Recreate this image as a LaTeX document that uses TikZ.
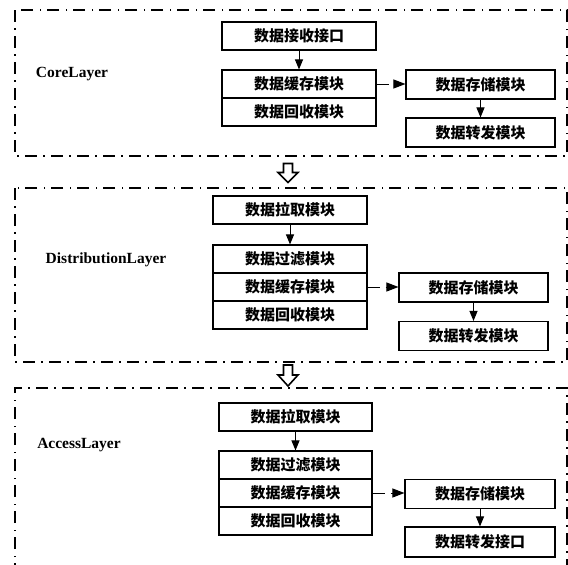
\documentclass[tikz,border=0pt]{standalone}
\usepackage{fontspec}
\setmainfont{Liberation Serif}
\newfontfamily\cjk{Noto Sans CJK SC}
\usetikzlibrary{arrows.meta}
\tikzset{
  modbox/.style={draw, line width=1.1pt, inner sep=0pt, font=\cjk\bfseries\fontsize{15}{15}\selectfont},
  lbox/.style={modbox, minimum width=154pt, minimum height=28pt},
  rbox/.style={modbox, minimum width=149pt, minimum height=29pt},
  panel/.style={line width=1.1pt, dash pattern=on 12pt off 6pt on 1.5pt off 6.5pt},
  layerlbl/.style={font=\bfseries\fontsize{15.5}{15.5}\selectfont, inner sep=0pt},
  arr/.style={line width=1pt, -{Triangle[length=10pt,width=8pt]}},
  darr/.style={line width=1pt, dash pattern=on 12pt off 6pt, -{Triangle[length=12pt,width=9pt]}},
  hollow/.style={draw, line width=1.6pt, fill=white, line join=miter}
}
\begin{document}
\begin{tikzpicture}[x=1pt,y=-1pt]
\useasboundingbox (0,0) rectangle (568,565);
\clip (0,0) rectangle (568,565);
% panels
\draw[panel] (15,10) rectangle (567,156);
\draw[panel] (15,188) rectangle (567,362);
\draw[panel] (15,575) -- (15,388) -- (567,388) -- (567,575);
% labels
\node[layerlbl] (L1) at (72,74) {CoreLayer};
\node[layerlbl] (L2) at (106,260) {DistributionLayer};
\node[layerlbl] (L3) at (79,445) {AccessLayer};
% panel 1
\node[lbox] (r1) at (299,36) {数据接收接口};
\node[lbox] (c1) at (299,84) {数据缓存模块};
\node[lbox] (g1) at (299,112) {数据回收模块};
\node[rbox] (s1) at (480.5,84.5) {数据存储模块};
\node[rbox] (f1) at (480.5,132.5) {数据转发模块};
\draw[arr] (r1.south) -- (c1.north);
\draw[darr] (c1.east) -- (c1.east -| s1.west);
\draw[arr] (s1.south) -- (f1.north);
% panel 2
\node[lbox] (p2) at (290,210) {数据拉取模块};
\node[lbox] (l2) at (290,259) {数据过滤模块};
\node[lbox] (c2) at (290,287) {数据缓存模块};
\node[lbox] (g2) at (290,315) {数据回收模块};
\node[rbox] (s2) at (473.5,287.5) {数据存储模块};
\node[rbox] (f2) at (473.5,336) {数据转发模块};
\draw[arr] (p2.south) -- (l2.north);
\draw[darr] (c2.east) -- (c2.east -| s2.west);
\draw[arr] (s2.south) -- (f2.north);
% panel 3
\node[lbox, minimum width=153pt] (p3) at (295.5,417) {数据拉取模块};
\node[lbox, minimum width=153pt] (l3) at (295.5,465) {数据过滤模块};
\node[lbox, minimum width=153pt] (c3) at (295.5,493) {数据缓存模块};
\node[lbox, minimum width=153pt] (g3) at (295.5,521) {数据回收模块};
\node[rbox, minimum width=150pt] (s3) at (480,494) {数据存储模块};
\node[rbox, minimum width=150pt, minimum height=30pt] (f3) at (480,542) {数据转发接口};
\draw[arr] (p3.south) -- (l3.north);
\draw[darr] (c3.east) -- (c3.east -| s3.west);
\draw[arr] (s3.south) -- (f3.north);
% hollow arrows between panels
\draw[hollow] (283.5,163.5) -- (292.5,163.5) -- (292.5,172.5) -- (298,172.5) -- (288,182.5) -- (278,172.5) -- (283.5,172.5) -- cycle;
\draw[hollow] (283.5,365) -- (292.5,365) -- (292.5,375) -- (298,375) -- (288,386) -- (278,375) -- (283.5,375) -- cycle;
\end{tikzpicture}
\end{document}
